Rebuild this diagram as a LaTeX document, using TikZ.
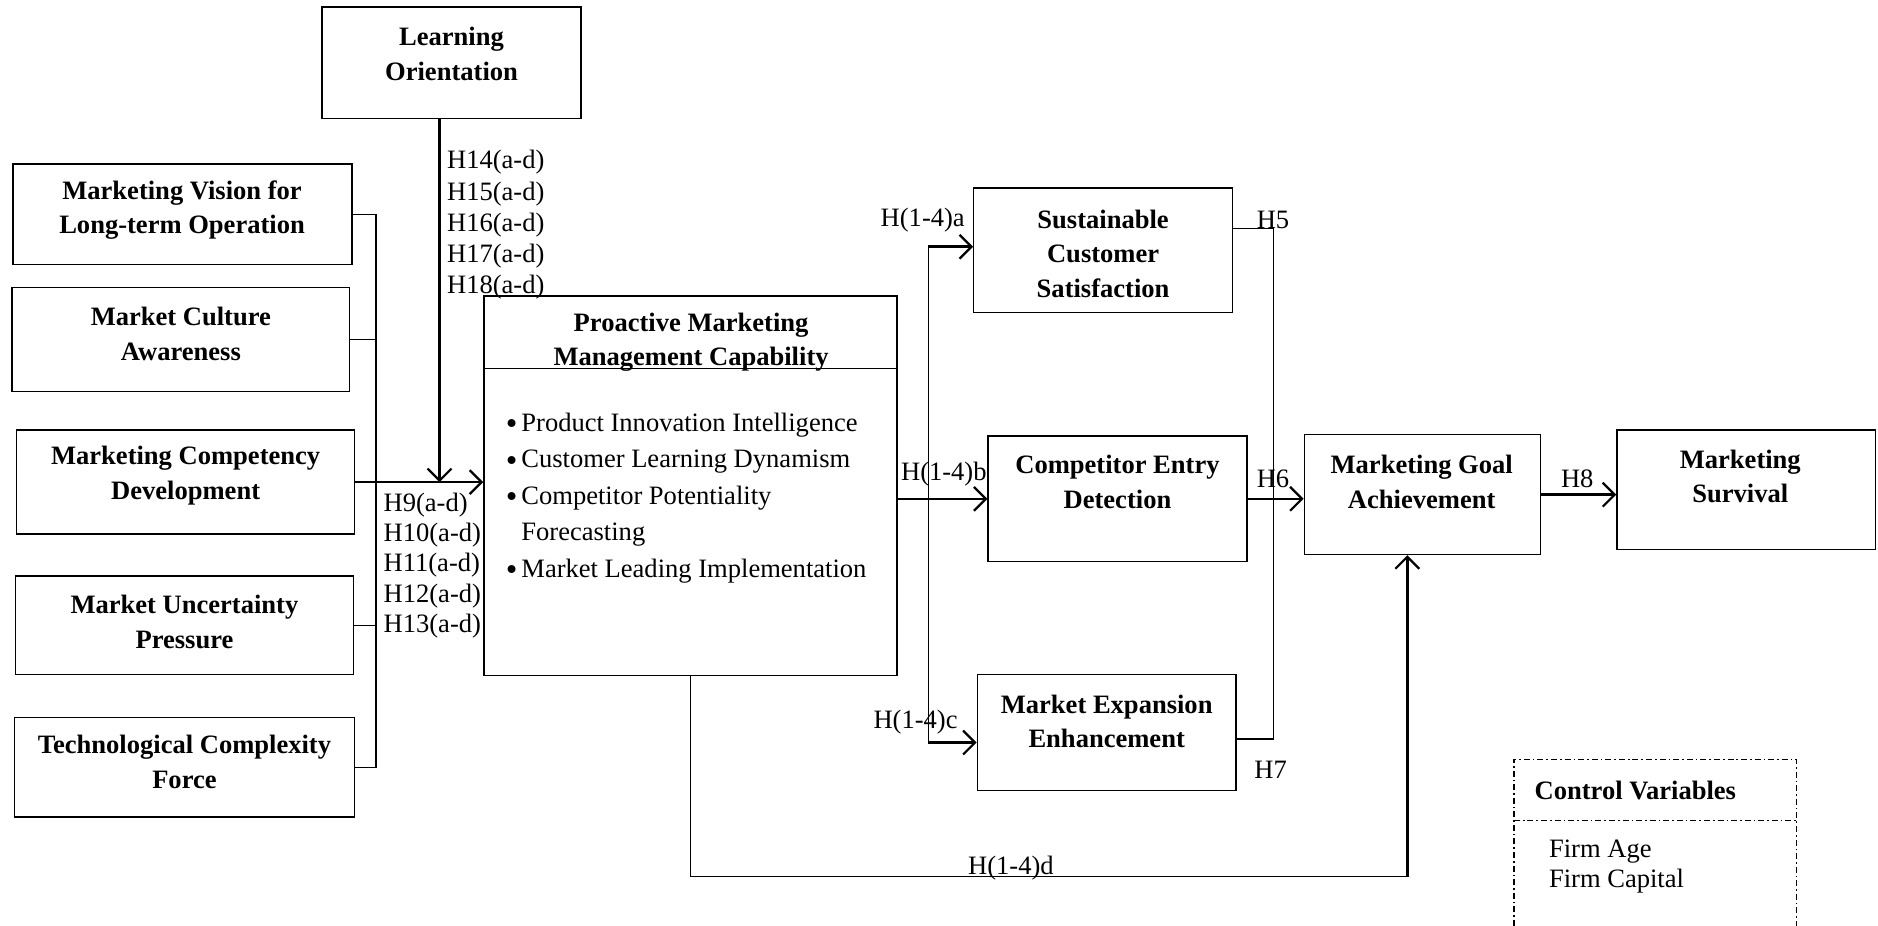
\documentclass[tikz,border=0pt]{standalone}
\usepackage{fontspec}
\setmainfont{Liberation Serif}
\usetikzlibrary{arrows.meta,fit,calc}
\newcommand\listbul{\makebox[7.8pt][l]{\raisebox{-0.3ex}{\scalebox{1.25}{\textbullet}}}}

\begin{document}
\begin{tikzpicture}[x=0.6pt,y=-0.6pt,
  box/.style={draw, line width=0.7pt, inner sep=0pt},
  boxtext/.style={font=\fontsize{13.3}{17.4}\selectfont\bfseries, align=center, inner sep=0pt, yshift=-1.1pt},
  lbl/.style={font=\fontsize{13.3}{15.6}\selectfont, anchor=west, inner sep=0pt, align=left, yshift=-1.6pt},
  link/.style={line width=0.6pt},
  arr/.style={line width=1.3pt, -{Straight Barb[length=6pt,width=12pt,line width=1.1pt]}},
  ctrl/.style={line width=0.6pt, dash pattern=on 3pt off 1.5pt on 0.8pt off 1.5pt},
]
\useasboundingbox (0,0) rectangle (1568,773);

% construct boxes
\node[box, fit={(269,6)(485,99)}] (lo) {};
\node[box, fit={(11,137)(294,221)}] (mv) {};
\node[box, fit={(10,240)(292,327)}] (mca) {};
\node[box, fit={(14,359)(296,446)}] (mcd) {};
\node[box, fit={(13,481)(295,563)}] (mup) {};
\node[box, fit={(12,599)(296,682)}] (tcf) {};
\node[box, fit={(404,247)(749,564)}] (pmmc) {};
\node[box, fit={(813,157)(1029,261)}] (scs) {};
\node[box, fit={(825,364)(1041,469)}] (ced) {};
\node[box, fit={(816,563)(1032,660)}] (mee) {};
\node[box, fit={(1089,363)(1286,463)}] (mga) {};
\node[box, fit={(1350,359)(1566,459)}] (ms) {};

% box titles
\node[boxtext] (lo-t) at (377,43) {Learning\\Orientation};
\node[boxtext] (mv-t) at (152,173.5) {Marketing Vision for\\Long-term Operation};
\node[boxtext] (mca-t) at (151,277) {Market Culture\\Awareness};
\node[boxtext] (mcd-t) at (155,395.5) {Marketing Competency\\Development};
\node[boxtext] (mup-t) at (154,517.5) {Market Uncertainty\\Pressure};
\node[boxtext] (tcf-t) at (154,634.5) {Technological Complexity\\Force};
\node[boxtext] (pmmc-t) at (577,284) {Proactive Marketing\\Management Capability};
\node[boxtext] (scs-t) at (921,210) {Sustainable\\Customer\\Satisfaction};
\node[boxtext] (ced-t) at (933,400.5) {Competitor Entry\\Detection};
\node[boxtext] (mee-t) at (924,600.5) {Market Expansion\\Enhancement};
\node[boxtext] (mga-t) at (1187,400.5) {Marketing Goal\\Achievement};
\node[boxtext] (ms-t) at (1453,396) {Marketing\\Survival};

% capability dimensions
\draw[link] (pmmc.west |- 0,308) -- (pmmc.east |- 0,308);
\node[lbl, font=\fontsize{13.3}{18.3}\selectfont] (pmmc-list) at (422,413)
  {\listbul Product Innovation Intelligence\\
   \listbul Customer Learning Dynamism\\
   \listbul Competitor Potentiality\\
   \phantom{\listbul}Forecasting\\
   \listbul Market Leading Implementation};

% antecedents bus
\coordinate (bus) at (314,0);
\draw[link] (mv.east) -- (mv.east -| bus) -- (tcf.east -| bus) -- (tcf.east);
\draw[link] (mca.east) -- (mca.east -| bus);
\draw[link] (mup.east) -- (mup.east -| bus);
\draw[arr] (mcd.east) -- (pmmc.west |- mcd.east);

% learning orientation moderation
\coordinate (join) at (367,402.5);
\draw[arr, line width=1.1pt] (lo.south -| join) -- (join);
\node[lbl] (h14) at (373,185) {H14(a-d)\\H15(a-d)\\H16(a-d)\\H17(a-d)\\H18(a-d)};
\node[lbl, font=\fontsize{13.3}{15.2}\selectfont] (h9) at (320,469.5) {H9(a-d)\\H10(a-d)\\H11(a-d)\\H12(a-d)\\H13(a-d)};

% outcome branches
\coordinate (forka) at (775,206);
\coordinate (forkc) at (775,620);
\draw[link] (forka) -- (forkc);
\draw[arr] (forka) -- (scs.west |- forka);
\draw[arr] (forkc) -- (mee.west |- forkc);
\draw[arr] (pmmc.east |- ced.west) -- (ced.west);
\node[lbl] (h14a) at (735,181) {H(1-4)a};
\node[lbl] (h14b) at (752,393) {H(1-4)b};
\node[lbl] (h14c) at (729,600) {H(1-4)c};

% H5 / H7 joint path
\coordinate (h5s) at (1029,191);
\coordinate (h5c) at (1063,191);
\coordinate (h7c) at (1063,617);
\coordinate (h7s) at (1032,617);
\draw[link] (scs.east |- h5s) -- (h5c) -- (h7c) -- (mee.east |- h7s);
\node[lbl] (h5) at (1049,181) {H5};
\node[lbl] (h7) at (1047,640) {H7};

\draw[arr] (ced.east) -- (mga.west |- ced.east);
\node[lbl] (h6) at (1049,397) {H6};
\draw[arr] (mga.east) -- (ms.west |- mga.east);
\node[lbl] (h8) at (1303,397) {H8};

% direct path
\coordinate (dcorner) at (1175,732);
\draw[link] (pmmc.south) |- (dcorner);
\draw[arr] (dcorner) -- (mga.south -| dcorner);
\node[lbl] (h14d) at (808,722) {H(1-4)d};

% control variables
\draw[ctrl] (1264,773) -- (1264,634) -- (1500,634) -- (1500,773);
\draw[ctrl] (1264,685) -- (1500,685);
\node[boxtext, anchor=west] (cv-t) at (1281,658) {Control Variables};
\node[lbl, font=\fontsize{13.3}{15}\selectfont] (cv-i) at (1293,720.5) {Firm Age\\Firm Capital};
\end{tikzpicture}
\end{document}
